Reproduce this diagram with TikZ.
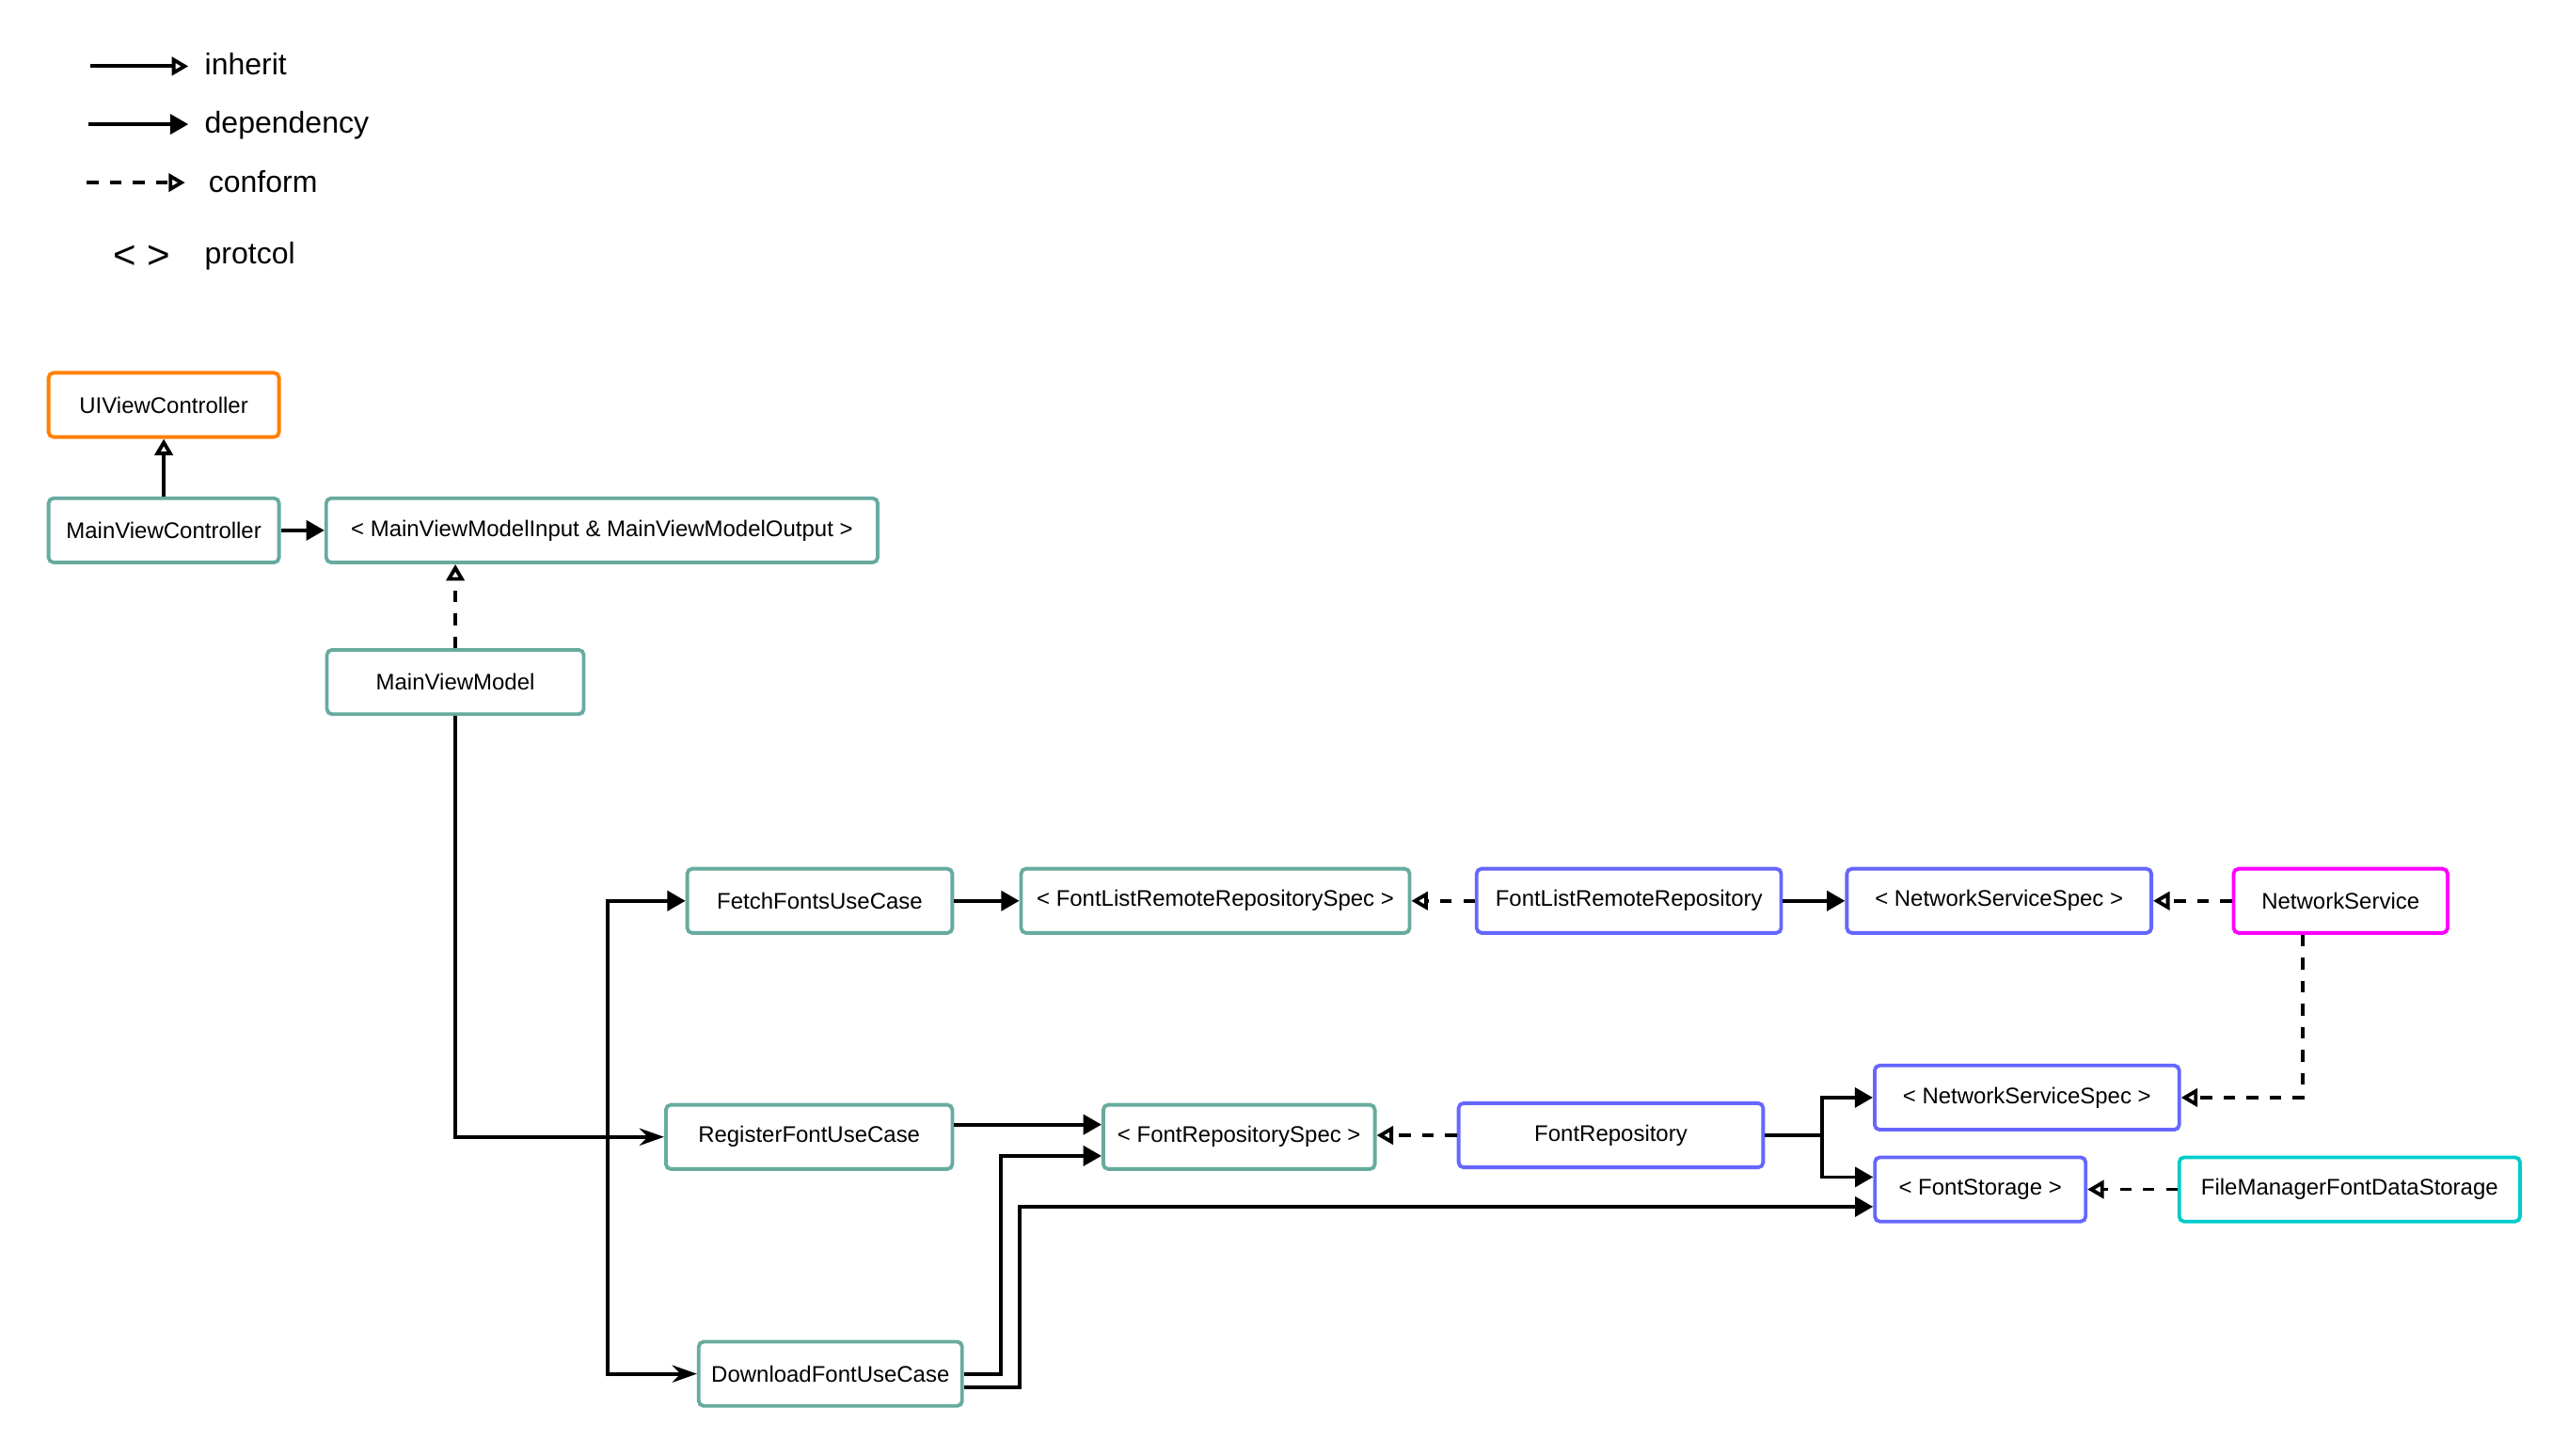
\documentclass[tikz,border=0pt]{standalone}
\usepackage{fontspec}
\setmainfont{Liberation Sans}
\usetikzlibrary{arrows.meta,calc}
\definecolor{cteal}{HTML}{67AB9F}
\definecolor{corange}{HTML}{FF8000}
\definecolor{cblue}{HTML}{6666FF}
\definecolor{cmag}{HTML}{FF00FF}
\definecolor{ccyan}{HTML}{00CCCC}
\newcommand{\boxfont}{\fontsize{13.7}{16}\selectfont}
\newcommand{\legfont}{\fontsize{18.3}{22}\selectfont}
\tikzset{
  box/.style={draw=#1, line width=2.2pt, rounded corners=3pt, fill=white,
    font=\boxfont, inner sep=0pt, anchor=center, minimum height=39pt},
  dep/.style={line width=2.2pt, -{Triangle[length=11pt,width=12pt]}},
  inh/.style={line width=2.2pt, -{Triangle[open,length=10pt,width=11pt,fill=white]}},
  conf/.style={line width=2.2pt, dash pattern=on 7pt off 7pt,
    -{Triangle[open,length=10pt,width=11pt,fill=white]}},
  cls/.style={line width=2.2pt, -{Stealth[length=15pt,width=10.5pt,inset=5pt]}},
  legtext/.style={font=\legfont, inner sep=0pt, anchor=base west}
}
\begin{document}
\begin{tikzpicture}[x=0.995pt,y=-0.996pt]
\useasboundingbox (0,0) rectangle (1567.84,888.12);
% legend
\coordinate (l1a) at (55,40.4);  \coordinate (l1b) at (115,40.4);
\coordinate (l2a) at (54,75.8);  \coordinate (l2b) at (115,75.8);
\coordinate (l3a) at (53,111.4); \coordinate (l3b) at (113,111.4);
\draw[inh] (l1a) -- (l1b);
\draw[dep] (l2a) -- (l2b);
\draw[conf] (l3a) -- (l3b);
\node[legtext] (t1) at (124.8,45.7) {inherit};
\node[legtext] (t2) at (124.8,81) {dependency};
\node[legtext] (t3) at (127.2,117.5) {conform};
\node[legtext, font=\fontsize{24}{28}\selectfont] (t4) at (69,164) {< >};
\node[legtext] (t5) at (124.8,161) {protcol};
% boxes
\node[box=corange, minimum width=140pt] (uivc) at (100,247) {UIViewController};
\node[box=cteal, minimum width=140pt] (mvc) at (100,323.5) {MainViewController};
\node[box=cteal, minimum width=335pt] (mvmio) at (367.5,323.5) {< MainViewModelInput \& MainViewModelOutput >};
\node[box=cteal, minimum width=156pt] (mvm) at (278,416) {MainViewModel};
\node[box=cteal, minimum width=161pt] (fetch) at (500.5,549.5) {FetchFontsUseCase};
\node[box=cteal, minimum width=236pt] (flrrs) at (742,549.5) {< FontListRemoteRepositorySpec >};
\node[box=cblue, minimum width=185pt] (flrr) at (994.5,549.5) {FontListRemoteRepository};
\node[box=cblue, minimum width=185pt] (nss1) at (1220.5,549.5) {< NetworkServiceSpec >};
\node[box=cmag, minimum width=130pt] (ns) at (1429,549.5) {NetworkService};
\node[box=cteal, minimum width=174pt] (reg) at (494,693.5) {RegisterFontUseCase};
\node[box=cteal, minimum width=165pt] (frs) at (756.5,693.5) {< FontRepositorySpec >};
\node[box=cblue, minimum width=185pt] (fr) at (983.5,692.5) {FontRepository};
\node[box=cblue, minimum width=185pt] (nss2) at (1237.5,669.5) {< NetworkServiceSpec >};
\node[box=cblue, minimum width=128pt] (fs) at (1209,725.5) {< FontStorage >};
\node[box=ccyan, minimum width=207pt] (fm) at (1434.5,725.5) {FileManagerFontDataStorage};
\node[box=cteal, minimum width=160pt] (dl) at (507,838) {DownloadFontUseCase};
% connectors
\draw[inh] (mvc.north) -- (uivc.south);
\draw[dep] (mvc.east) -- (mvmio.west);
\draw[conf] (mvm.north) -- (mvm.north |- mvmio.south);
\coordinate (bus) at (371,693.5);
\draw[cls] (mvm.south) |- (reg.west);
\draw[dep] (mvm.south) |- (bus) |- (fetch.west);
\draw[cls] (mvm.south) |- (bus) |- (dl.west);
\draw[dep] (fetch.east) -- (flrrs.west);
\draw[conf] (flrr.west) -- (flrrs.east);
\draw[dep] (flrr.east) -- (nss1.west);
\draw[conf] (ns.west) -- (nss1.east);
\draw[conf] ([xshift=-23pt]ns.south) |- (nss2.east);
\draw[dep] ([yshift=7.5pt]reg.east) -- ([yshift=7.5pt]reg.east -| frs.west);
\draw[dep] (dl.east) -- ++(22.3,0) |- ([yshift=-11.5pt]frs.west);
\draw[dep] ([yshift=-8pt]dl.east) -- ++(34,0) |- ([yshift=-10.5pt]fs.west);
\draw[conf] (fr.west) -- (fr.west -| frs.east);
\draw[dep] (fr.east) -- ++(35,0) |- (nss2.west);
\draw[dep] (fr.east) -- ++(35,0) |- ([yshift=7.5pt]fs.west);
\draw[conf] (fm.west) -- (fs.east);
\end{tikzpicture}
\end{document}
